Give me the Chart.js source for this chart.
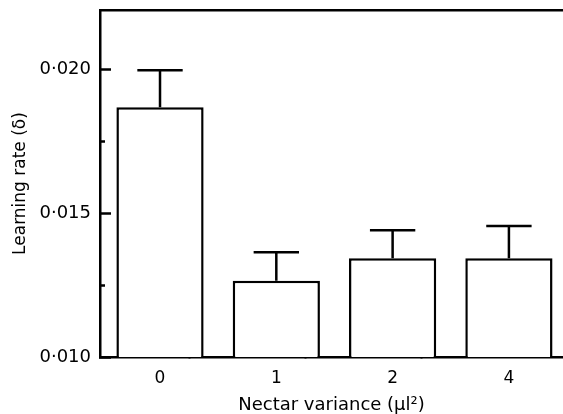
<!DOCTYPE html>
<html>
<head>
<meta charset="utf-8">
<style>html,body{margin:0;padding:0;background:#fff;overflow:hidden}canvas{display:block}</style>
<script src="https://cdn.jsdelivr.net/npm/chart.js@4"></script>
</head>
<body>
<canvas id="c" width="563" height="414"></canvas>
<script>
// ---- data ----
const categories = ['0', '1', '2', '4'];               // nectar variance (µl²)
const meanRate   = [0.01867, 0.01265, 0.01343, 0.01343];
const seRate     = [0.00129, 0.00099, 0.00097, 0.00112];
const yTickValues = [0.010, 0.0125, 0.015, 0.0175, 0.020];
const yTickLabels = ['0·010', '', '0·015', '', '0·020'];
const xTickPositions = [0, 0.5, 1, 1.5, 2, 2.5, 3];

const FAMILY = '"DejaVu Sans", sans-serif';
const X_MIN = -0.516, X_MAX = 3.465;
const LINE = 2.5;

const errorBars = {
  id: 'errorBars',
  afterDatasetsDraw(chart) {
    const meta = chart.getDatasetMeta(0);
    const yScale = chart.scales.y;
    const ctx = chart.ctx;
    ctx.save();
    ctx.strokeStyle = '#000';
    ctx.lineWidth = LINE;
    meta.data.forEach((bar, i) => {
      const p = bar.getProps(['x', 'y', 'width'], true);
      const top = yScale.getPixelForValue(meanRate[i] + seRate[i]);
      const half = p.width * 0.26;
      ctx.beginPath();
      ctx.moveTo(p.x, p.y);
      ctx.lineTo(p.x, top);
      ctx.moveTo(p.x - half, top);
      ctx.lineTo(p.x + half, top);
      ctx.stroke();
    });
    ctx.restore();
  }
};

new Chart(document.getElementById('c'), {
  type: 'bar',
  data: {
    datasets: [{
      data: meanRate.map((v, i) => ({ x: i, y: v })),
      backgroundColor: '#fff',
      borderColor: '#000',
      borderWidth: LINE,
      categoryPercentage: 1,
      barPercentage: 1.5
    }]
  },
  options: {
    responsive: false,
    animation: false,
    events: [],
    layout: { padding: 0 },
    plugins: { legend: { display: false }, tooltip: { enabled: false } },
    scales: {
      x: {
        type: 'linear', position: 'bottom', min: X_MIN, max: X_MAX, offset: false,
        afterBuildTicks: s => { s.ticks = xTickPositions.map(v => ({ value: v })); },
        afterFit: s => { s.height = 57; s.paddingLeft = 0; s.paddingRight = 0; },
        ticks: {
          autoSkip: false, maxRotation: 0, padding: 16, color: '#000',
          font: { family: FAMILY, size: 17 },
          callback: (v, i) => (i % 2 === 0 ? categories[i / 2] : '')
        },
        grid: {
          drawOnChartArea: false, drawTicks: true, tickLength: -5, tickWidth: 2,
          tickColor: c => (c.index % 2 === 1 ? '#000' : 'rgba(0,0,0,0)')
        },
        border: { display: true, color: '#000', width: LINE },
        title: {
          display: true, text: 'Nectar variance (μl²)', color: '#000',
          font: { family: FAMILY, size: 18, lineHeight: 1.0 }, padding: { top: 0, bottom: 0 }
        }
      },
      xTop: {
        type: 'linear', position: 'top', min: X_MIN, max: X_MAX,
        afterFit: s => { s.height = 10; s.paddingLeft = 0; s.paddingRight = 0; },
        ticks: { display: false },
        grid: { drawOnChartArea: false, drawTicks: false },
        border: { display: true, color: '#000', width: LINE }
      },
      y: {
        type: 'linear', position: 'left', min: 0.010, max: 0.02205,
        afterBuildTicks: s => { s.ticks = yTickValues.map(v => ({ value: v })); },
        afterFit: s => { s.width = 100; s.paddingTop = 0; s.paddingBottom = 0; },
        ticks: {
          padding: 20, color: '#000', font: { family: FAMILY, size: 18 },
          callback: (v, i) => yTickLabels[i]
        },
        grid: {
          drawOnChartArea: false, drawTicks: true, tickLength: -11, tickWidth: LINE, tickColor: '#000',
          tickBorderDash: c => (yTickLabels[c.index] ? [] : [0, 6, 6, 40])
        },
        border: { display: true, color: '#000', width: LINE },
        title: {
          display: true, text: 'Learning rate (δ)', color: '#000',
          font: { family: FAMILY, size: 17 }, padding: { top: 10, bottom: 0 }
        }
      }
    }
  },
  plugins: [errorBars]
});
</script>
</body>
</html>
